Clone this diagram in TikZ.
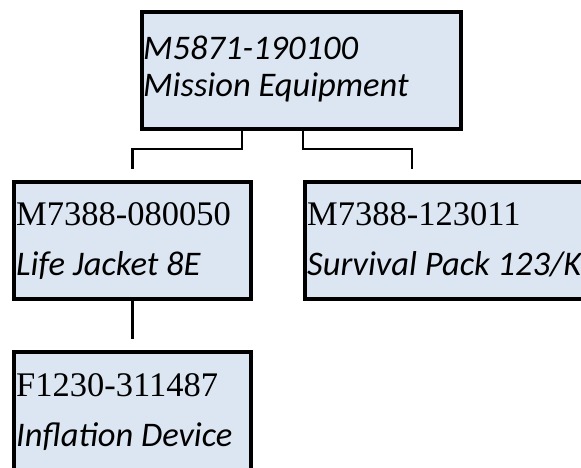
\documentclass[tikz,border=0pt]{standalone}
\usepackage{fontspec}
\setmainfont{Liberation Serif}
\newfontfamily\calibrilike{Carlito}
\definecolor{boxfill}{RGB}{220,230,242}
\tikzset{
  itembox/.style={draw=black, fill=boxfill, line width=4.5pt, rectangle,
    inner sep=0pt, outer sep=0pt, anchor=north west},
  codetxt/.style={inner sep=0pt, anchor=base west, font=\fontsize{34.5}{40}\selectfont},
  nametxt/.style={inner sep=0pt, anchor=base west, font=\calibrilike\itshape\fontsize{34.5}{40}\selectfont},
  link/.style={draw=black, line width=2.8pt}
}
\begin{document}
\begin{tikzpicture}[x=1pt,y=1pt]
\useasboundingbox (0,0) rectangle (581,-467);
\clip (0,0) rectangle (581,-467);

% boxes
\node[itembox, minimum width=319pt, minimum height=117pt] (me) at (142,-12) {};
\node[itembox, minimum width=237pt, minimum height=117pt] (lj) at (14,-182) {};
\node[itembox, minimum width=300pt, minimum height=117pt] (sp) at (305,-182) {};
\node[itembox, minimum width=237pt, minimum height=125pt] (inf) at (14,-352) {};

% labels
\node[nametxt] (meA) at (143,-59) {M5871-190100};
\node[nametxt] (meB) at (143,-96) {Mission Equipment};
\node[codetxt] (ljA) at (16,-225) {M7388-080050};
\node[nametxt] (ljB) at (16,-275) {Life Jacket 8E};
\node[codetxt] (spA) at (307,-225) {M7388-123011};
\node[nametxt] (spB) at (307,-275) {Survival Pack 123/K};
\node[codetxt] (infA) at (16,-396) {F1230-311487};
\node[nametxt] (infB) at (16,-446) {Inflation Device};

% connectors
\draw[link] ([xshift=100pt]me.south west) -- ++(0,-20) -| ([yshift=13pt]lj.north);
\draw[link] ([xshift=161pt]me.south west) -- ++(0,-20) -| ([xshift=107pt,yshift=13pt]sp.north west);
\draw[link] (lj.south) -- ([yshift=13pt]inf.north);
\end{tikzpicture}
\end{document}
